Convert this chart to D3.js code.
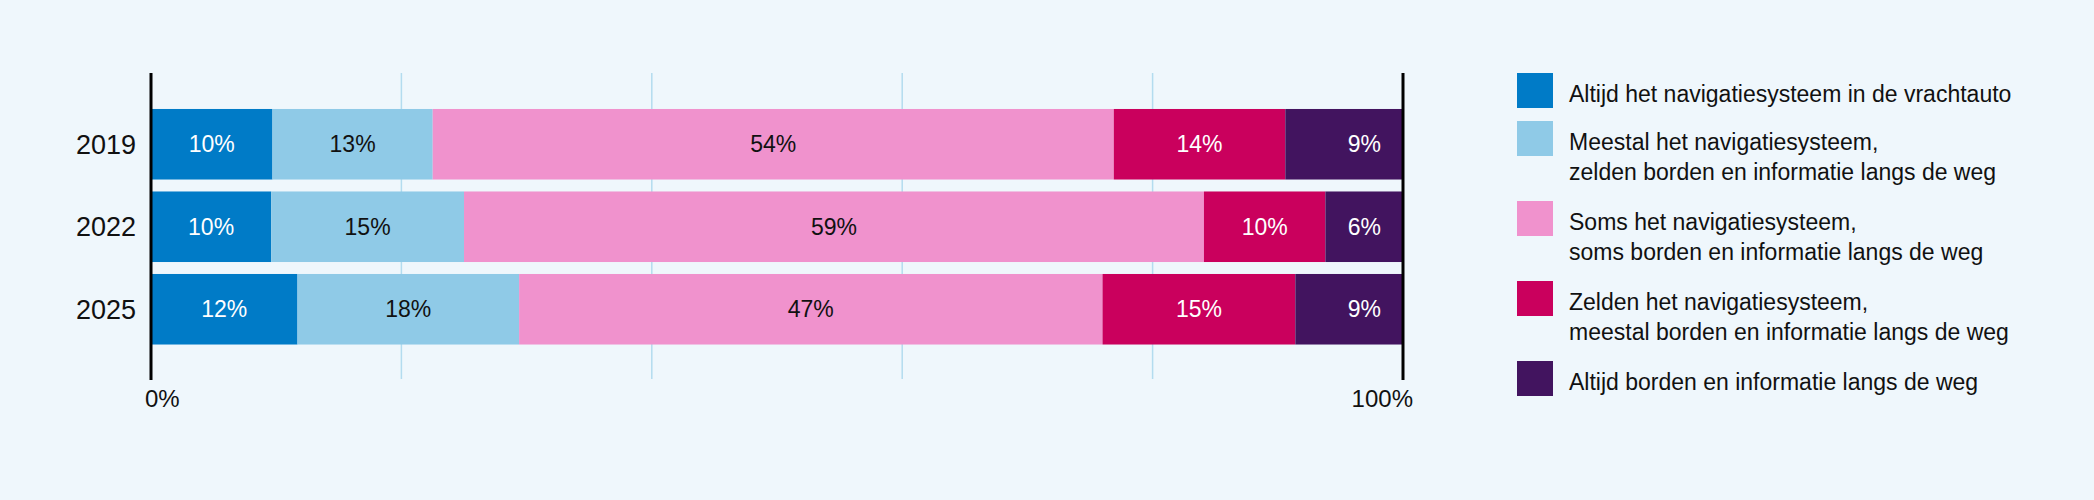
<html>
<head>
<meta charset="utf-8">
<title>Navigatiesysteem of borden</title>
<style type="text/css">
  body{ margin:0; background:#eff7fc; }
  svg{ display:block; }
  text{ font-family:"Liberation Sans", Arial, sans-serif; }
</style>
<script src="https://d3js.org/d3.v7.min.js"></script>
</head>
<body>
<script>
var years = ["2019", "2022", "2025"];

var series = ["altijdNav", "meestalNav", "somsNav", "zeldenNav", "altijdBorden"];

var legendLabels = [
  ["Altijd het navigatiesysteem in de vrachtauto"],
  ["Meestal het navigatiesysteem,", "zelden borden en informatie langs de weg"],
  ["Soms het navigatiesysteem,", "soms borden en informatie langs de weg"],
  ["Zelden het navigatiesysteem,", "meestal borden en informatie langs de weg"],
  ["Altijd borden en informatie langs de weg"]
];

// shares per year, in percent
var altijdNav    = [9.7, 9.6, 11.7];
var meestalNav   = [12.8, 15.4, 17.7];
var somsNav      = [54.4, 59.1, 46.6];
var zeldenNav    = [13.7, 9.7, 15.4];
var altijdBorden = [9.4, 6.2, 8.6];

var gridTicks = [20, 40, 60, 80];
var axisTicks = [0, 100];

var colors = ["#007bc7", "#8fcae7", "#f092cd", "#ca005d", "#42145f"];
var labelColors = ["#fff", "#111", "#111", "#fff", "#fff"];

var width = 2094, height = 500;

var data = years.map(function(y, i){
  return {
    year: y,
    altijdNav: altijdNav[i],
    meestalNav: meestalNav[i],
    somsNav: somsNav[i],
    zeldenNav: zeldenNav[i],
    altijdBorden: altijdBorden[i]
  };
});

var x = d3.scaleLinear().domain([0, 100]).range([151, 1403]);
var y = d3.scaleBand().domain(years).range([103, 350.5])
          .paddingInner(0.145).paddingOuter(0.0725);
var color = d3.scaleOrdinal().domain(series).range(colors);

var stack = d3.stack().keys(series);
var layers = stack(data);

var svg = d3.select("body").append("svg")
            .attr("width", width)
            .attr("height", height);

svg.append("rect")
   .attr("width", width)
   .attr("height", height)
   .attr("fill", "#eff7fc");

// grid lines
svg.selectAll(".grid")
   .data(gridTicks)
   .enter()
   .append("line")
   .attr("class", "grid")
   .attr("x1", d => x(d)).attr("x2", d => x(d))
   .attr("y1", 73).attr("y2", 379)
   .attr("stroke", "#b3dcef")
   .attr("stroke-width", 1.5);

// bars
var groups = svg.selectAll(".layer")
   .data(layers)
   .enter()
   .append("g")
   .attr("class", "layer")
   .attr("fill", d => color(d.key));

groups.selectAll("rect")
   .data(d => d)
   .enter()
   .append("rect")
   .attr("x", d => x(d[0]))
   .attr("y", d => y(d.data.year))
   .attr("width", d => x(d[1]) - x(d[0]))
   .attr("height", y.bandwidth());

// value labels
groups.each(function(layer, li){
  d3.select(this).selectAll("text")
    .data(layer)
    .enter()
    .append("text")
    .attr("x", d => li == series.length - 1 ? x(d[1]) - 22 : (x(d[0]) + x(d[1])) / 2)
    .attr("y", d => y(d.data.year) + y.bandwidth() / 2)
    .attr("dy", "0.35em")
    .attr("text-anchor", li == series.length - 1 ? "end" : "middle")
    .attr("fill", labelColors[li])
    .style("font-size", "23px")
    .text(d => Math.round(d[1] - d[0]) + "%");
});

// axis lines at 0 and 100%
svg.selectAll(".axisline")
   .data(axisTicks)
   .enter()
   .append("line")
   .attr("class", "axisline")
   .attr("x1", d => x(d)).attr("x2", d => x(d))
   .attr("y1", 73).attr("y2", 380)
   .attr("stroke", "#000")
   .attr("stroke-width", 3);

svg.selectAll(".axislabel")
   .data(axisTicks)
   .enter()
   .append("text")
   .attr("class", "axislabel")
   .attr("x", d => d == 0 ? x(d) - 6 : x(d) + 10)
   .attr("y", 407)
   .attr("text-anchor", d => d == 0 ? "start" : "end")
   .attr("fill", "#111")
   .style("font-size", "24px")
   .text(d => d + "%");

// year labels
svg.selectAll(".year")
   .data(years)
   .enter()
   .append("text")
   .attr("class", "year")
   .attr("x", 136)
   .attr("y", d => y(d) + y.bandwidth() / 2)
   .attr("dy", "0.35em")
   .attr("text-anchor", "end")
   .attr("fill", "#111")
   .style("font-size", "27px")
   .text(d => d);

// legend
var legendTop = 73, items = [];
legendLabels.forEach(function(lines, i){
  items.push({key: series[i], lines: lines, top: legendTop});
  legendTop += 16 + lines.length * 32;
});

var legend = svg.selectAll(".legend")
   .data(items)
   .enter()
   .append("g")
   .attr("class", "legend")
   .attr("transform", d => "translate(1517," + d.top + ")");

legend.append("rect")
   .attr("width", 36)
   .attr("height", 35)
   .attr("fill", d => color(d.key));

legend.selectAll("text")
   .data(d => d.lines)
   .enter()
   .append("text")
   .attr("x", 52)
   .attr("y", (d, i) => 21 + i * 30)
   .attr("dy", "0.35em")
   .attr("fill", "#111")
   .style("font-size", "23px")
   .text(d => d);
</script>
</body>
</html>
